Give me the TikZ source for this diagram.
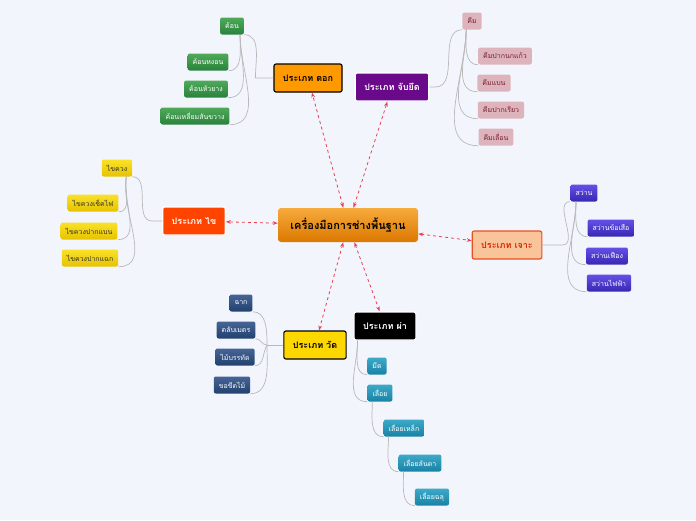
\documentclass[tikz,border=0pt]{standalone}
\usepackage{fontspec}
\newfontfamily\thai[Script=Thai]{Loma}
\usetikzlibrary{arrows.meta}
\definecolor{bg}{HTML}{F3F5FD}
\begin{document}
\begin{tikzpicture}[x=1pt,y=-1pt,
  every node/.style={font=\thai},
  leaf/.style={rounded corners=2pt,inner xsep=5pt,inner ysep=3pt,minimum height=17,font=\thai\fontsize{7}{8}\selectfont,text=white},
  branch/.style={rounded corners=2pt,minimum height=28,inner xsep=9pt,font=\thai\bfseries\fontsize{9}{10}\selectfont,line width=1.1pt},
  gl/.style={draw=gray!55,line width=0.7pt},
  rel/.style={draw={rgb,255:red,232;green,64;blue,80},dashed,line width=0.8pt,{Stealth[open,length=5pt]}-{Stealth[open,length=5pt]}}]
\fill[bg] (0,0) rectangle (696,520);
\useasboundingbox (0,0) rectangle (696,520);
% center
\node[rounded corners=3pt,top color={rgb,255:red,246;green,170;blue,60},bottom color={rgb,255:red,220;green,120;blue,0},minimum width=140,minimum height=34,font=\thai\bfseries\fontsize{11}{12}\selectfont] (c) at (348,225) {เครื่องมือการช่างพื้นฐาน};
% branches
\node[branch,fill={rgb,255:red,255;green,153;blue,0},draw=black] (tok) at (308,78) {ประเภท ตอก};
\node[branch,fill={rgb,255:red,106;green,10;blue,138},draw=white,text=white] (jab) at (392,87) {ประเภท จับยึด};
\node[branch,fill={rgb,255:red,255;green,68;blue,0},draw=white,text=white] (khai) at (194,221) {ประเภท ไข};
\node[branch,fill={rgb,255:red,249;green,196;blue,154},draw={rgb,255:red,232;green,80;blue,32},text={rgb,255:red,220;green,40;blue,0}] (jo) at (507,245) {ประเภท เจาะ};
\node[branch,fill={rgb,255:red,255;green,215;blue,0},draw=black] (wat) at (315,345) {ประเภท วัด};
\node[branch,fill=black,draw=white,text=white] (pha) at (385,326) {ประเภท ผ่า};
% arrows
\foreach \b in {tok,jab,khai,jo,wat,pha} \draw[rel] (c) -- (\b);
% leaves
\tikzset{gr/.style={leaf,top color={rgb,255:red,80;green,170;blue,90},bottom color={rgb,255:red,40;green,130;blue,60}},
 pk/.style={leaf,fill={rgb,255:red,222;green,180;blue,188},text={rgb,255:red,120;green,30;blue,50}},
 ye/.style={leaf,top color={rgb,255:red,250;green,225;blue,40},bottom color={rgb,255:red,230;green,195;blue,0},text=black!80},
 bl/.style={leaf,top color={rgb,255:red,100;green,80;blue,230},bottom color={rgb,255:red,55;green,40;blue,180}},
 nv/.style={leaf,top color={rgb,255:red,70;green,100;blue,150},bottom color={rgb,255:red,35;green,65;blue,110}},
 tl/.style={leaf,top color={rgb,255:red,60;green,170;blue,200},bottom color={rgb,255:red,25;green,130;blue,165}}}
\node[gr] (a1) at (232,26) {ค้อน};
\node[gr] (a2) at (208,62) {ค้อนหงอน};
\node[gr] (a3) at (206,89) {ค้อนหัวยาง};
\node[gr] (a4) at (195,116) {ค้อนเหลี่ยมสันขวาง};
\node[pk] (b1) at (472,21) {คีม};
\node[pk] (b2) at (505,56) {คีมปากนกแก้ว};
\node[pk] (b3) at (494,83) {คีมแบน};
\node[pk] (b4) at (501,110) {คีมปากเรียว};
\node[pk] (b5) at (496,137) {คีมเลื่อน};
\node[ye] (k1) at (117,168) {ไขควง};
\node[ye] (k2) at (93,203) {ไขควงเช็คไฟ};
\node[ye] (k3) at (89,231) {ไขควงปากแบน};
\node[ye] (k4) at (90,258) {ไขควงปากแฉก};
\node[bl] (s1) at (584,193) {สว่าน};
\node[bl] (s2) at (611,228) {สว่านข้อเสือ};
\node[bl] (s3) at (607,256) {สว่านเฟือง};
\node[bl] (s4) at (609,283) {สว่านไฟฟ้า};
\node[nv] (w1) at (241,303) {ฉาก};
\node[nv] (w2) at (236,330) {ตลับเมตร};
\node[nv] (w3) at (235,357) {ไม้บรรทัด};
\node[nv] (w4) at (232,385) {ขอขีดไม้};
\node[tl] (p1) at (377,366) {มีด};
\node[tl] (p2) at (380,393) {เลื่อย};
\node[tl] (p3) at (404,428) {เลื่อยเหล็ก};
\node[tl] (p4) at (420,463) {เลื่อยลันดา};
\node[tl] (p5) at (432,497) {เลื่อยฉลุ};
% connectors: tok
\coordinate (ja) at ([xshift=-4pt]a1.south east);
\draw[gl] (tok.west) -- ++(-18,0) to[out=90,in=0] ([xshift=4pt]ja);
\foreach \l in {a2,a3,a4} \draw[gl] (ja) to[out=-90,in=0] (\l.south east);
% jab
\coordinate (jb) at ([xshift=4pt]b1.south west);
\draw[gl] (jab.east) -- ++(6,0) to[out=0,in=180] ([xshift=-4pt]jb);
\foreach \l in {b2,b3,b4,b5} \draw[gl] (jb) to[out=-90,in=180] (\l.south west);
% khai
\coordinate (jk) at ([xshift=-6pt]k1.south east);
\draw[gl] (khai.west) -- ++(-10,0) to[out=180,in=0] ([xshift=6pt]jk);
\foreach \l in {k2,k3,k4} \draw[gl] (jk) to[out=-100,in=0] (\l.south east);
% jo
\coordinate (js) at ([xshift=-8pt]s1.south);
\draw[gl] (jo.east) -- ++(20,0) to[out=0,in=180] ([xshift=-6pt]js);
\foreach \l in {s2,s3,s4} \draw[gl] (js) to[out=-90,in=180] (\l.south west);
% wat
\coordinate (jw) at (267,345);
\draw[gl] (wat.west) -- (jw);
\draw[gl] (w1.south east) to[out=0,in=90] (jw) to[out=-90,in=0] (w4.south east);
\draw[gl] (w2.south east) to[out=0,in=180] (jw);
\draw[gl] (w3.south east) to[out=0,in=-120] (jw);
% pha
\coordinate (jp) at ([xshift=4pt]pha.south west);
\draw[gl] (jp) to[out=-90,in=180] (p1.south west);
\draw[gl] (jp) to[out=-90,in=180] (p2.south west);
\draw[gl] ([xshift=5pt]p2.south west) to[out=-90,in=180] (p3.south west);
\draw[gl] ([xshift=5pt]p3.south west) to[out=-90,in=180] (p4.south west);
\draw[gl] ([xshift=5pt]p4.south west) to[out=-90,in=180] (p5.south west);
\end{tikzpicture}
\end{document}
